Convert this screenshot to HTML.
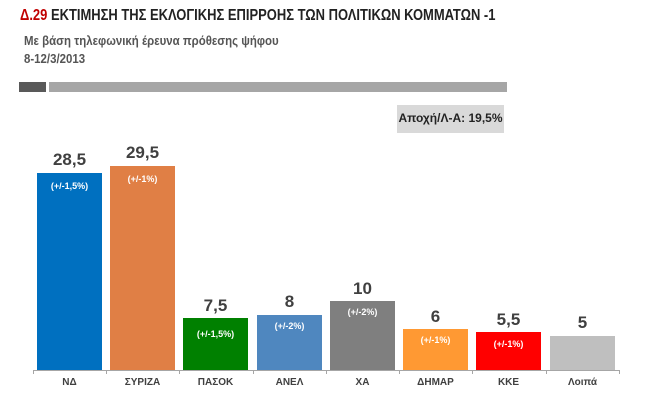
<!DOCTYPE html>
<html><head><meta charset="utf-8"><style>
body{margin:0;width:648px;height:404px;background:#fff;position:relative;overflow:hidden;font-family:"Liberation Sans","DejaVu Sans",sans-serif;}
div{position:absolute;}
.t{white-space:nowrap;}
.b{width:65px;}
.v{width:65px;text-align:center;font-size:17px;font-weight:bold;color:#404040;}
.m{width:65px;text-align:center;font-size:9px;font-weight:bold;color:#fff;}
.l{width:73px;text-align:center;font-size:10px;font-weight:bold;color:#404040;top:377px;}
.k{width:1px;height:4px;background:#a6a6a6;top:370px;}
</style></head><body>
<div class="t" style="left:20px;top:7px;font-size:16px;font-weight:bold;color:#222;transform:scaleX(0.81);transform-origin:left;"><span style="color:#c00000">Δ.29</span> ΕΚΤΙΜΗΣΗ ΤΗΣ ΕΚΛΟΓΙΚΗΣ ΕΠΙΡΡΟΗΣ ΤΩΝ ΠΟΛΙΤΙΚΩΝ ΚΟΜΜΑΤΩΝ -1</div>
<div class="t" style="left:24px;top:33px;font-size:13px;font-weight:bold;color:#555;transform:scaleX(0.88);transform-origin:left;">Με βάση τηλεφωνική έρευνα πρόθεσης ψήφου</div>
<div class="t" style="left:24px;top:51px;font-size:13px;font-weight:bold;color:#555;transform:scaleX(0.88);transform-origin:left;">8-12/3/2013</div>
<div style="left:19px;top:82px;width:27px;height:10px;background:#595959"></div>
<div style="left:49px;top:82px;width:458px;height:10px;background:#a6a6a6"></div>
<div style="left:397px;top:105px;width:107px;height:28px;background:#d9d9d9"></div>
<div class="t" style="left:397px;top:111px;width:107px;text-align:center;font-size:12px;font-weight:bold;color:#222;">Αποχή/Λ-Α: 19,5%</div>

<div style="left:33px;top:370px;width:587px;height:1px;background:#a6a6a6"></div>
<div class="k" style="left:33px"></div><div class="k" style="left:106px"></div><div class="k" style="left:179px"></div><div class="k" style="left:253px"></div><div class="k" style="left:326px"></div><div class="k" style="left:399px"></div><div class="k" style="left:472px"></div><div class="k" style="left:546px"></div><div class="k" style="left:619px"></div>

<div class="b" style="left:37px;top:173px;height:197px;background:#0070c0"></div>
<div class="v" style="left:37px;top:150px">28,5</div><div class="m" style="left:37px;top:181px">(+/-1,5%)</div>
<div class="b" style="left:110px;top:166px;height:204px;background:#e07f45"></div>
<div class="v" style="left:110px;top:143px">29,5</div><div class="m" style="left:110px;top:174px">(+/-1%)</div>
<div class="b" style="left:183px;top:318px;height:52px;background:#008000"></div>
<div class="v" style="left:183px;top:296px">7,5</div><div class="m" style="left:183px;top:329px">(+/-1,5%)</div>
<div class="b" style="left:257px;top:315px;height:55px;background:#4f87bf"></div>
<div class="v" style="left:257px;top:292px">8</div><div class="m" style="left:257px;top:321px">(+/-2%)</div>
<div class="b" style="left:330px;top:301px;height:69px;background:#7f7f7f"></div>
<div class="v" style="left:330px;top:279px">10</div><div class="m" style="left:330px;top:307px">(+/-2%)</div>
<div class="b" style="left:403px;top:329px;height:41px;background:#ff9933"></div>
<div class="v" style="left:403px;top:307px">6</div><div class="m" style="left:403px;top:335px">(+/-1%)</div>
<div class="b" style="left:476px;top:332px;height:38px;background:#ff0000"></div>
<div class="v" style="left:476px;top:310px">5,5</div><div class="m" style="left:476px;top:339px">(+/-1%)</div>
<div class="b" style="left:550px;top:336px;height:34px;background:#bfbfbf"></div>
<div class="v" style="left:550px;top:313px">5</div>

<div class="l" style="left:33px">ΝΔ</div>
<div class="l" style="left:106px">ΣΥΡΙΖΑ</div>
<div class="l" style="left:179px">ΠΑΣΟΚ</div>
<div class="l" style="left:253px">ΑΝΕΛ</div>
<div class="l" style="left:326px">ΧΑ</div>
<div class="l" style="left:399px">ΔΗΜΑΡ</div>
<div class="l" style="left:472px">ΚΚΕ</div>
<div class="l" style="left:546px">Λοιπά</div>
</body></html>
